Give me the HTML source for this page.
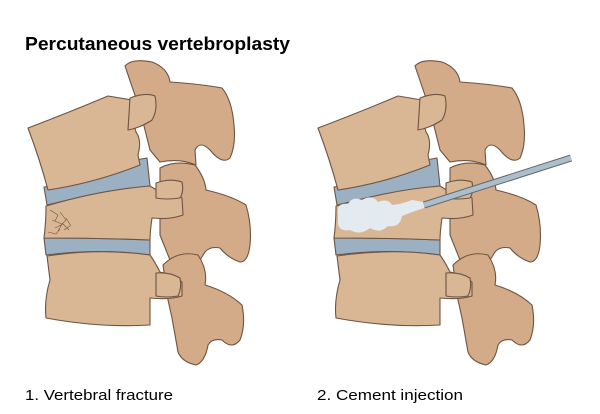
<!DOCTYPE html>
<html><head><meta charset="utf-8"><style>
html,body{margin:0;padding:0;background:#fff;width:600px;height:414px;overflow:hidden}
svg{display:block}
</style></head><body>
<svg width="600" height="414" viewBox="0 0 600 414" xmlns="http://www.w3.org/2000/svg">
<defs>
<g id="spine" stroke="#6e5442" stroke-width="1.1" stroke-linejoin="round">
  <path fill="#d3ab88" d="M125,66 Q132,58 152,62 Q168,68 170,82 Q200,84 222,88 Q232,100 234,125 Q236,145 230,158 Q222,165 210,150 Q200,140 195,150 L196,165 Q180,158 160,162 L150,150 L140,110 Z"/>
  <path fill="#d3ab88" d="M160,168 Q175,160 195,165 Q205,178 206,190 Q232,196 246,205 Q252,225 250,245 Q248,262 240,262 Q228,258 220,248 Q210,246 205,252 L200,260 Q185,255 170,260 L160,235 L160,200 Z"/>
  <path fill="#d3ab88" d="M163,265 Q178,250 198,255 Q208,270 205,285 Q228,292 242,305 Q246,325 240,340 Q232,350 222,340 Q212,338 208,345 Q205,362 196,365 Q182,362 178,352 L172,318 L168,300 Z"/>
  <path fill="#9cb0c3" d="M44,187 Q90,180 136,160 L147,158 L150,186 Q100,192 47,205 Z"/>
  <path fill="#9cb0c3" d="M44,238 Q100,238 150,240 L150,255 Q100,248 46,255 Z"/>
  <path fill="#d9b694" d="M28,128 Q70,112 108,96 L132,100 Q130,110 136,132 Q142,140 138,155 L140,165 Q95,183 48,190 Q40,160 28,128 Z"/>
  <path fill="#d9b694" d="M46,206 Q100,190 150,186 L160,192 Q175,192 182,198 L183,215 Q170,220 152,218 Q150,232 150,240 Q100,238 44,238 Q46,222 46,206 Z"/>
  <path fill="#d9b694" d="M47,256 Q100,248 150,255 Q155,262 160,272 Q172,274 182,282 L182,296 Q170,300 150,298 L150,325 Q100,328 46,318 Q44,300 50,280 Z"/>
  <path fill="#d9b694" d="M130,98 Q145,92 155,96 Q158,110 152,120 Q140,128 128,130 Z"/>
  <path fill="#d9b694" d="M156,183 Q170,178 182,182 Q184,192 180,198 Q166,200 156,198 Z"/>
  <path fill="#d9b694" d="M156,273 Q170,272 180,278 Q182,288 178,296 Q166,298 156,296 Z"/>
</g>
</defs>
<text x="25" y="50" font-family="Liberation Sans, sans-serif" font-weight="bold" font-size="18" textLength="265" lengthAdjust="spacingAndGlyphs">Percutaneous vertebroplasty</text>
<use href="#spine"/>
<g stroke="#6e5442" stroke-width="0.6" fill="none">
  <path d="M50,210 l8,5 l-3,6 M52,220 l10,4 l-4,7 M55,228 l8,-4 l6,6 M60,212 l6,8 l-5,5 M66,218 l5,8 M48,232 l8,2 l4,-5 M64,230 l6,-4"/>
</g>
<g transform="translate(290,0)"><use href="#spine"/></g>
<path fill="#e3ebf1" d="M338,215 Q336,202 348,204 Q352,196 362,200 Q372,194 378,202 Q388,198 392,205 Q402,204 412,200 L424,202 L424,208 Q412,212 402,216 Q400,228 388,226 Q380,234 370,228 Q360,236 350,230 Q338,232 338,222 Z"/>
<line x1="424" y1="205" x2="571" y2="158" stroke="#5e6a74" stroke-width="7"/>
<line x1="424" y1="205" x2="571" y2="158" stroke="#aebdca" stroke-width="5"/>
<text x="25" y="400" font-family="Liberation Sans, sans-serif" font-size="15" textLength="148" lengthAdjust="spacingAndGlyphs">1. Vertebral fracture</text>
<text x="317" y="400" font-family="Liberation Sans, sans-serif" font-size="15" textLength="146" lengthAdjust="spacingAndGlyphs">2. Cement injection</text>
</svg>
</body></html>
